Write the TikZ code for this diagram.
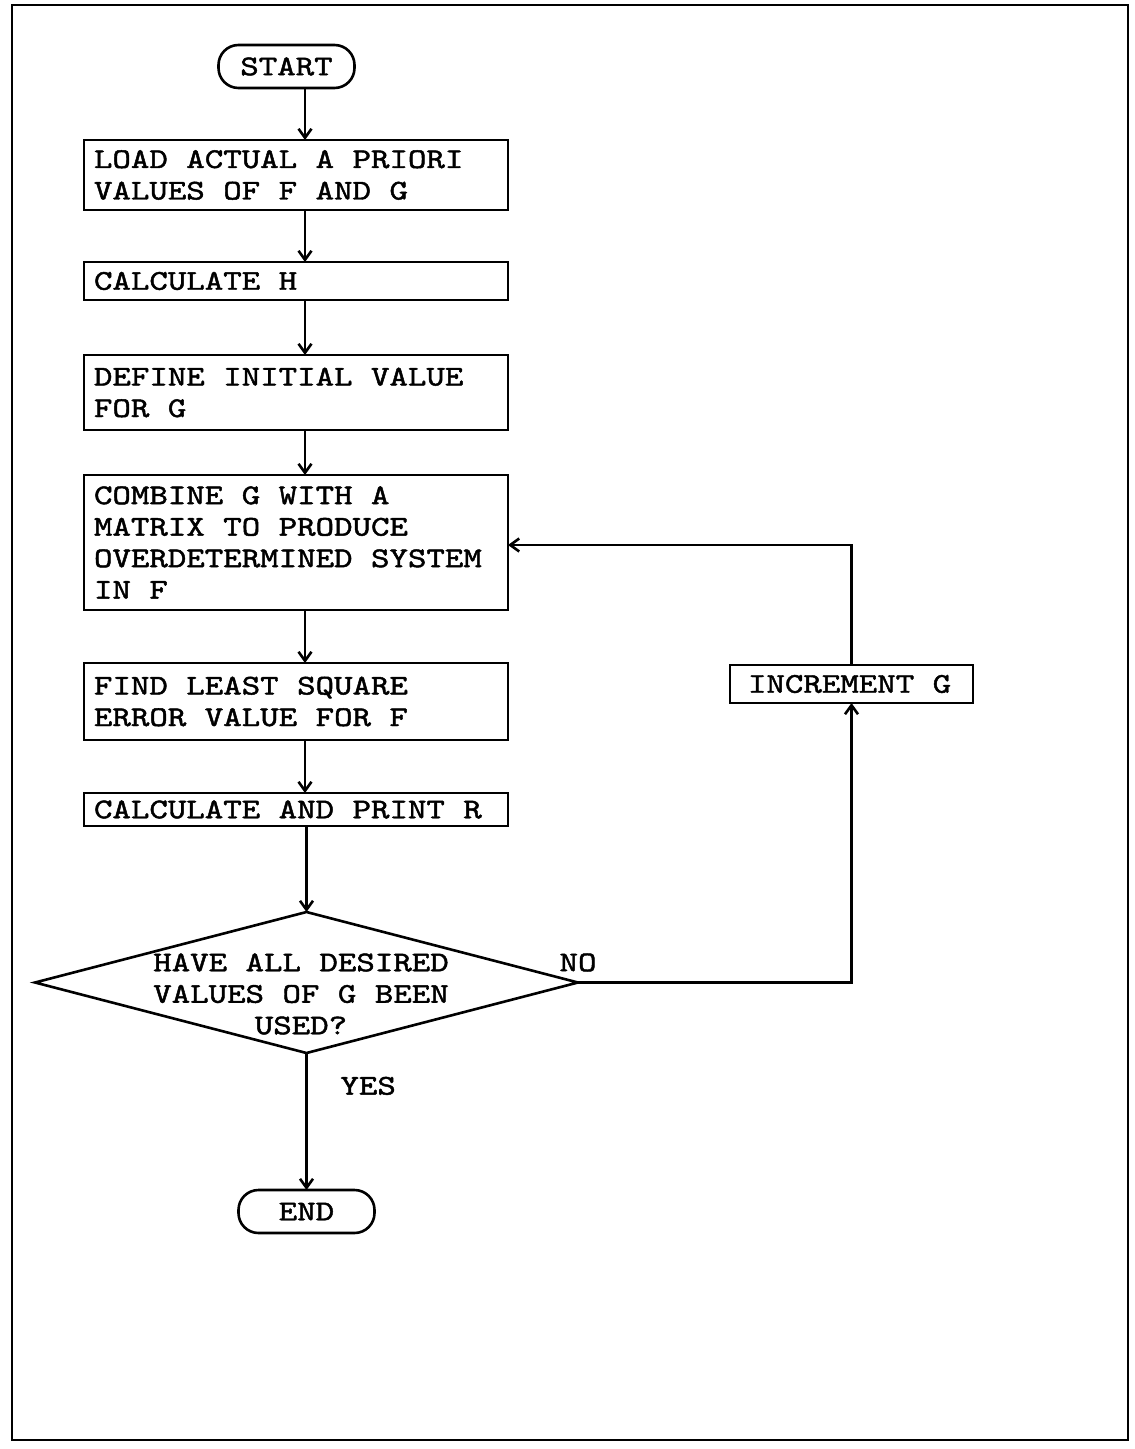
\documentclass[tikz,border=0pt]{standalone}
\usepackage{fontspec}
\newfontfamily\typewr{lmmono10-regular.otf}[FakeStretch=1.23,FakeBold=1.6]
\usetikzlibrary{positioning,arrows.meta,shapes.geometric}

\begin{document}
\begin{tikzpicture}[node distance=26pt, >={Straight Barb[length=4.5pt,width=6.5pt]},
  line width=1.3pt, font=\typewr\fontsize{14.3}{15.75}\selectfont,
  execute at begin node={\spaceskip=0pt\xspaceskip=0pt},
  procbox/.style={draw,align=left,text width=202pt,inner xsep=5pt,inner ysep=2pt,outer sep=0pt},
  termbox/.style={draw,rounded corners=10pt,minimum width=68pt,minimum height=21.5pt,inner sep=0pt,outer sep=0pt},
  decide/.style={draw,diamond,minimum width=271.5pt,minimum height=70.5pt,inner sep=0pt,outer sep=0pt}]
\useasboundingbox (0,0) rectangle (567pt,-724.5pt);
% page frame
\draw[line width=1.1pt] (6pt,-2.5pt) rectangle (564pt,-720pt);

\node[procbox,minimum height=35pt] (load) at (148pt,-87.5pt) {LOAD ACTUAL A PRIORI\\VALUES OF F AND G};
\node[termbox,above=26pt of load,xshift=-4.75pt] (start) {START};
\node[procbox,minimum height=19pt,below=of load] (calch) {CALCULATE H};
\node[procbox,minimum height=37.5pt,below=27.5pt of calch] (define) {DEFINE INITIAL VALUE\\FOR G};
\node[procbox,minimum height=67.5pt,below=22.5pt of define] (combine) {COMBINE G WITH A\\MATRIX TO PRODUCE\\OVERDETERMINED SYSTEM\\IN F};
\node[procbox,minimum height=38.5pt,below=26.5pt of combine] (find) {FIND LEAST SQUARE\\ERROR VALUE FOR F};
\node[procbox,minimum height=16.5pt,inner ysep=0pt,below=26.5pt of find] (calcr) {CALCULATE AND PRINT R};
\node[decide,below=43pt of calcr,xshift=5.25pt,
  label={[xshift=-2.75pt,yshift=-5.75pt,align=center]center:HAVE ALL DESIRED\\VALUES OF G BEEN\\USED?}] (query) {};
\node[termbox,below=68.5pt of query] (finish) {END};
\node[procbox,text width=103.5pt,inner xsep=9pt,minimum height=19pt,right=111pt of find,yshift=8.75pt] (incr) {INCREMENT G};

\coordinate (spine) at ([xshift=4.5pt]load.center);
\draw[->] (start.south -| spine) -- (load.north -| spine);
\draw[->] (load.south -| spine) -- (calch.north -| spine);
\draw[->] (calch.south -| spine) -- (define.north -| spine);
\draw[->] (define.south -| spine) -- (combine.north -| spine);
\draw[->] (combine.south -| spine) -- (find.north -| spine);
\draw[->] (find.south -| spine) -- (calcr.north -| spine);
\draw[->] (calcr.south -| query.north) -- (query.north);
\draw[->] (query.south) -- node[pos=0.24,right=13pt] (yes) {YES} (query.south |- finish.north);
\draw[->] (query.east) node[above=1.5pt] (no) {NO} -| (incr.south);
\draw[->] (incr.north) |- ([yshift=-1.25pt]combine.east);
\end{tikzpicture}
\end{document}
